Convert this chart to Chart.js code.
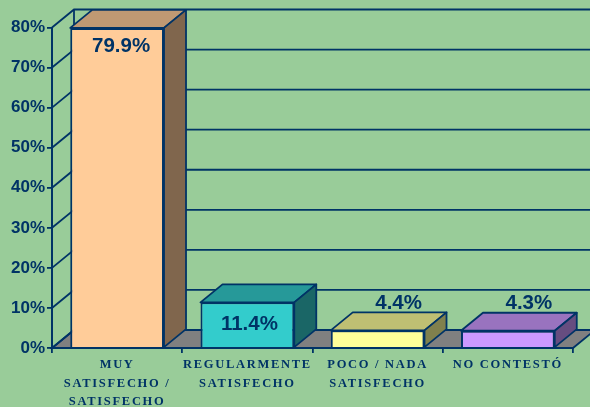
<!DOCTYPE html>
<html>
<head>
<meta charset="utf-8">
<style>
  html, body { margin: 0; padding: 0; background: #99CC99; }
  canvas { display: block; }
</style>
<script src="https://cdn.jsdelivr.net/npm/chart.js@4/dist/chart.umd.min.js"></script>
</head>
<body>
<canvas id="chart" width="590" height="407"></canvas>
<script>
// ------------------ Datos ------------------
const categorias = [
    ["MUY", "SATISFECHO /", "SATISFECHO"],
    ["REGULARMENTE", "SATISFECHO"],
    ["POCO / NADA", "SATISFECHO"],
    ["NO CONTESTÓ"]
];
const valores = [79.9, 11.4, 4.4, 4.3];
const etiquetas = ["79.9%", "11.4%", "4.4%", "4.3%"];
const colorFrente = ["#FFCC99", "#33CCCC", "#FFFF99", "#CC99FF"];
const colorTecho = ["#BF9973", "#269999", "#BFBF73", "#9973BF"];
const colorLado = ["#80664D", "#1A6666", "#80804D", "#664D80"];

// ------------------ Estilo ------------------
const NAVY = "#003366";
const FONDO = "#99CC99";
const PISO = "#808080";
const DX = 22;   // profundidad del efecto 3D
const DY = 18;
const LINEA = 1.8;

function poligono(ctx, puntos, relleno) {
    ctx.beginPath();
    puntos.forEach((p, i) => i ? ctx.lineTo(p[0], p[1]) : ctx.moveTo(p[0], p[1]));
    ctx.closePath();
    if (relleno) { ctx.fillStyle = relleno; ctx.fill(); }
    ctx.stroke();
}

// Fondo, paredes y piso (antes de los ejes)
const paredes = {
    id: "paredes",
    beforeDraw(chart) {
        const { ctx, chartArea: a, scales: { y } } = chart;
        ctx.save();
        ctx.fillStyle = FONDO;
        ctx.fillRect(0, 0, chart.width, chart.height);
        ctx.strokeStyle = NAVY;
        ctx.lineWidth = LINEA;
        poligono(ctx, [[a.left, a.bottom], [a.right, a.bottom], [a.right + DX, a.bottom - DY], [a.left + DX, a.bottom - DY]], PISO);
        y.ticks.forEach(t => {
            const py = y.getPixelForValue(t.value);
            ctx.beginPath();
            ctx.moveTo(a.left, py);
            ctx.lineTo(a.left + DX, py - DY);
            ctx.lineTo(a.right + DX, py - DY);
            ctx.stroke();
        });
        ctx.beginPath();
        ctx.moveTo(a.left + DX, a.top - DY);
        ctx.lineTo(a.left + DX, a.bottom - DY);
        ctx.stroke();
        ctx.restore();
        // solo las etiquetas del eje X llevan espaciado
        ctx.letterSpacing = "1.7px";
    },
    beforeDatasetsDraw(chart) {
        chart.ctx.letterSpacing = "0px";
    }
};

// Techo y lado de cada barra
const barras3d = {
    id: "barras3d",
    beforeDatasetsDraw(chart) {
        const { ctx } = chart;
        ctx.save();
        ctx.strokeStyle = NAVY;
        ctx.lineWidth = LINEA;
        ctx.lineJoin = "round";
        chart.getDatasetMeta(0).data.forEach((bar, i) => {
            const l = bar.x - bar.width / 2, r = bar.x + bar.width / 2;
            poligono(ctx, [[l, bar.y], [r, bar.y], [r + DX, bar.y - DY], [l + DX, bar.y - DY]], colorTecho[i]);
            poligono(ctx, [[r, bar.y], [r + DX, bar.y - DY], [r + DX, bar.base - DY], [r, bar.base]], colorLado[i]);
        });
        ctx.restore();
    },
    afterDatasetsDraw(chart) {
        const { ctx } = chart;
        ctx.save();
        ctx.fillStyle = NAVY;
        ctx.font = 'bold 20.5px "Liberation Sans"';
        ctx.textAlign = "center";
        ctx.textBaseline = "middle";
        chart.getDatasetMeta(0).data.forEach((bar, i) => {
            if (valores[i] > 50) ctx.fillText(etiquetas[i], bar.x + 4, bar.y + 18);
            else if (valores[i] > 10) ctx.fillText(etiquetas[i], bar.x + 2, (bar.y + bar.base) / 2);
            else ctx.fillText(etiquetas[i], bar.x + DX - 1, bar.y - DY - 9);
        });
        ctx.restore();
    }
};

new Chart(document.getElementById("chart"), {
    type: "bar",
    data: {
        labels: categorias,
        datasets: [{
            data: valores,
            backgroundColor: colorFrente,
            borderColor: NAVY,
            borderWidth: 2,
            barPercentage: 0.72,
            categoryPercentage: 1
        }]
    },
    options: {
        responsive: false,
        animation: false,
        layout: { padding: { top: 27.5, right: 17, left: 0, bottom: 0 } },
        plugins: { legend: { display: false }, tooltip: { enabled: false } },
        scales: {
            x: {
                afterFit: s => { s.height = 59; },
                border: { color: NAVY, width: 2 },
                grid: { drawOnChartArea: false, color: NAVY, tickLength: 5, lineWidth: LINEA },
                ticks: {
                    color: NAVY,
                    autoSkip: false,
                    maxRotation: 0,
                    padding: 3,
                    font: { family: "Liberation Serif", weight: "bold", size: 12.5, lineHeight: 1.48 }
                }
            },
            y: {
                min: 0,
                max: 80,
                afterFit: s => { s.width = 52; },
                border: { color: NAVY, width: 2 },
                grid: { drawOnChartArea: false, color: NAVY, tickLength: 5, lineWidth: LINEA },
                ticks: {
                    z: 1,
                    stepSize: 10,
                    color: NAVY,
                    padding: 2,
                    callback: v => v + "%",
                    font: { family: "Liberation Sans", weight: "bold", size: 17 }
                }
            }
        }
    },
    plugins: [paredes, barras3d]
});
</script>
</body>
</html>
